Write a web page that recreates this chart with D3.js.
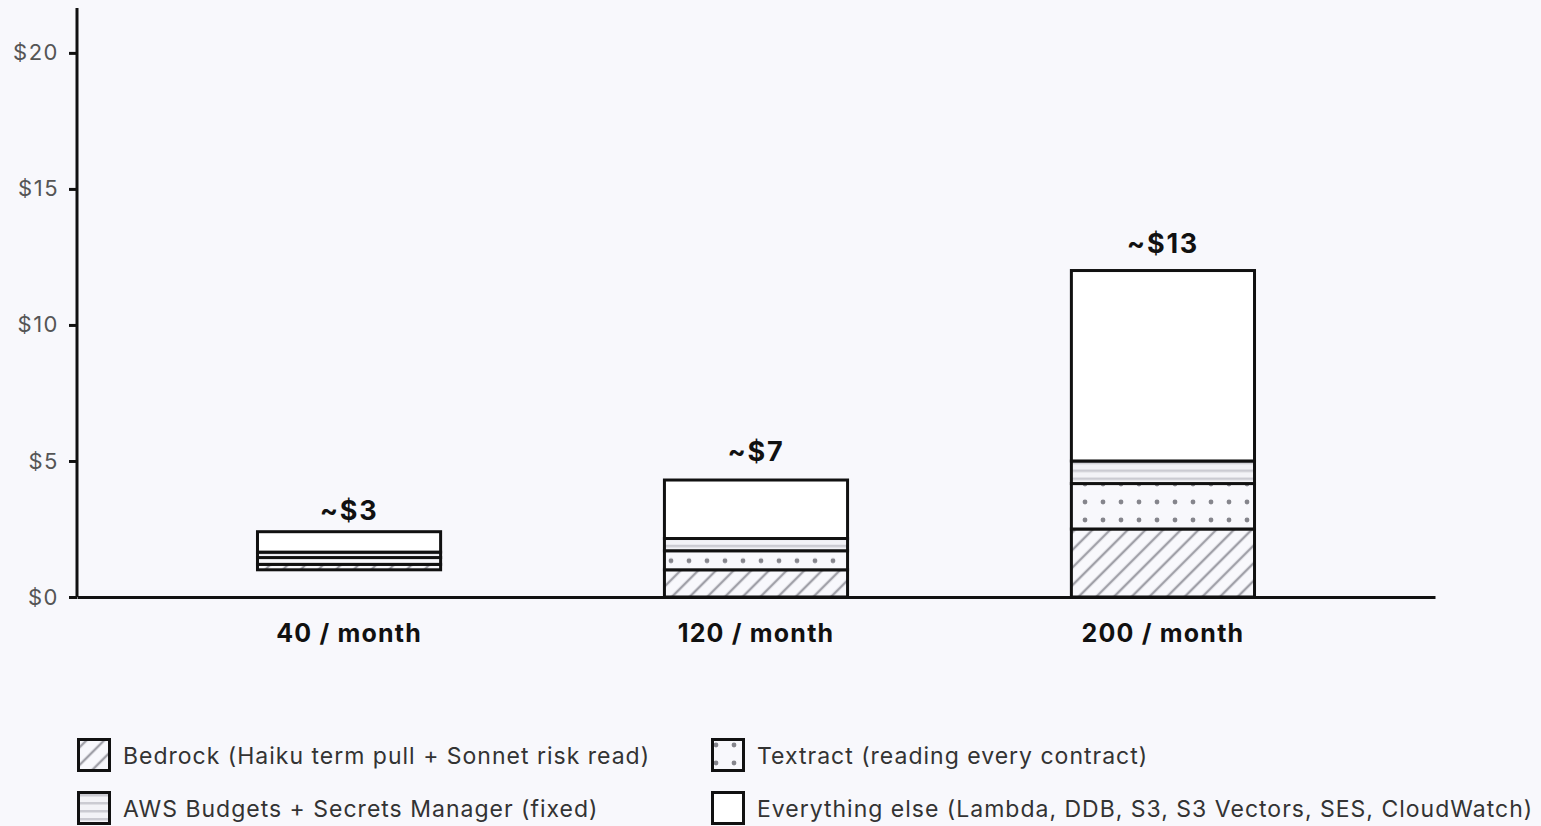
<!DOCTYPE html>
<html><head><meta charset="utf-8">
<script src="https://cdn.jsdelivr.net/npm/d3@7"></script>
<style>
html,body{margin:0;padding:0;background:#f8f8fc;}
svg{display:block;font-family:Inter,"Noto Sans",sans-serif;}
</style></head>
<body><svg id="c" width="1541" height="826"></svg>
<script>
// ---- data ----
const categories = ["40 / month", "120 / month", "200 / month"];
const totalLabels = ["~$3", "~$7", "~$13"];
const labelLevel = [3.2, 5.35, 13.0];       // value (USD) at which each total label sits
const baseline = [1.0, 0, 0];               // where each stack starts (USD)
const bedrock  = [0.2, 1.0, 2.5];
const textract = [0.25, 0.7, 1.67];
const budgets  = [0.2, 0.45, 0.83];
const other    = [0.75, 2.15, 7.0];
const seriesKeys = ["bedrock", "textract", "budgets", "other"];
const seriesNames = [
  "Bedrock (Haiku term pull + Sonnet risk read)",
  "Textract (reading every contract)",
  "AWS Budgets + Secrets Manager (fixed)",
  "Everything else (Lambda, DDB, S3, S3 Vectors, SES, CloudWatch)"
];
const yTicks = [0, 5, 10, 15, 20];
const yMax = 21.65;

// ---- build ----
const svg = d3.select("#c");
const defs = svg.append("defs");
const ink = "#111";
const bg = "#f8f8fc";

function hatchPattern(id, ty){
  const p = defs.append("pattern").attr("id",id).attr("patternUnits","userSpaceOnUse")
    .attr("width",12.5).attr("height",12.5).attr("patternTransform",`translate(0,${ty}) rotate(45)`);
  p.append("rect").attr("width",12.5).attr("height",12.5).attr("fill",bg);
  p.append("line").attr("x1",0).attr("y1",0).attr("x2",0).attr("y2",12.5)
    .attr("stroke","#a0a0a8").attr("stroke-width",2.4);
  p.append("line").attr("x1",12.5).attr("y1",0).attr("x2",12.5).attr("y2",12.5)
    .attr("stroke","#a0a0a8").attr("stroke-width",2.4);
}
function dotPattern(id, ty){
  const p = defs.append("pattern").attr("id",id).attr("patternUnits","userSpaceOnUse")
    .attr("width",18).attr("height",18).attr("patternTransform",`translate(-4,${ty})`);
  p.append("rect").attr("width",18).attr("height",18).attr("fill",bg);
  p.append("circle").attr("cx",9).attr("cy",9).attr("r",2.4).attr("fill","#85858c");
}
function linePattern(id, ty){
  const p = defs.append("pattern").attr("id",id).attr("patternUnits","userSpaceOnUse")
    .attr("width",10).attr("height",8).attr("patternTransform",`translate(0,${ty})`);
  p.append("rect").attr("width",10).attr("height",8).attr("fill","#f3f3f7");
  p.append("rect").attr("y",2).attr("width",10).attr("height",2.5).attr("fill","#cbcbd2");
}
const makers = {bedrock:hatchPattern, textract:dotPattern, budgets:linePattern};
let pid = 0;
function fillFor(key, bottomY){
  if(key==="other") return "#ffffff";
  const id = "p"+(pid++);
  makers[key](id, bottomY);
  return `url(#${id})`;
}

const rows = categories.map((c,i)=>({cat:c, base:baseline[i], bedrock:bedrock[i], textract:textract[i],
  budgets:budgets[i], other:other[i], label:totalLabels[i], level:labelLevel[i]}));

const x = d3.scaleBand().domain(categories).range([77,1435]).paddingInner(0.55).paddingOuter(0.4435);
const y = d3.scaleLinear().domain([0,yMax]).range([597,8]);

const stack = d3.stack().keys(seriesKeys);
const layers = stack(rows);
layers.forEach(L=>L.forEach((d,i)=>{d[0]+=rows[i].base; d[1]+=rows[i].base;}));

const g = svg.append("g");
layers.forEach(L=>{
  g.selectAll(null).data(L).enter().append("rect")
    .attr("x",d=>x(d.data.cat))
    .attr("width",x.bandwidth())
    .attr("y",d=>y(d[1]))
    .attr("height",d=>y(d[0])-y(d[1]))
    .attr("fill",d=>fillFor(L.key, y(d[0])))
    .attr("stroke",ink).attr("stroke-width",3);
});

// total labels
g.selectAll(null).data(rows).enter().append("text")
  .attr("x",d=>x(d.cat)+x.bandwidth()/2)
  .attr("y",d=>y(d.level)+10)
  .attr("text-anchor","middle").attr("font-size",27).attr("font-weight",700).attr("fill",ink)
  .attr("letter-spacing",1.8)
  .text(d=>d.label);

// y axis
const yAxis = svg.append("g").attr("transform","translate(77,0)")
  .call(d3.axisLeft(y).tickValues(yTicks).tickFormat(d=>"$"+d).tickSize(8).tickPadding(10));
yAxis.select(".domain").attr("d",`M0,${y(yMax)}V${y(0)}`).attr("stroke",ink).attr("stroke-width",3);
yAxis.selectAll(".tick line").attr("stroke",ink).attr("stroke-width",3);
yAxis.selectAll(".tick text").attr("font-size",22).attr("fill","#555").attr("letter-spacing",1.5)
  .attr("font-family","Inter,sans-serif");

// x axis
const xAxis = svg.append("g").attr("transform","translate(0,597)")
  .call(d3.axisBottom(x).tickSize(0).tickPadding(27));
xAxis.select(".domain").attr("stroke",ink).attr("stroke-width",3);
xAxis.selectAll(".tick text").attr("font-size",25).attr("font-weight",700).attr("fill",ink)
  .attr("letter-spacing",1.2).attr("font-family","Inter,sans-serif");

// legend
const legPos = [[77,738],[711,738],[77,791],[711,791]];
const legKeys = ["bedrock","textract","budgets","other"];
const lg = svg.append("g");
legKeys.forEach((k,i)=>{
  const gi = lg.append("g").attr("transform",`translate(${legPos[i][0]},${legPos[i][1]})`);
  gi.append("rect").attr("x",1.5).attr("y",1.5).attr("width",31).attr("height",31)
    .attr("fill",fillFor(k, legPos[i][1]+34)).attr("stroke",ink).attr("stroke-width",3);
  gi.append("text").attr("x",46).attr("y",26).attr("font-size",23).attr("fill","#333")
    .attr("letter-spacing",1.0).text(seriesNames[i]);
});
</script></body></html>
